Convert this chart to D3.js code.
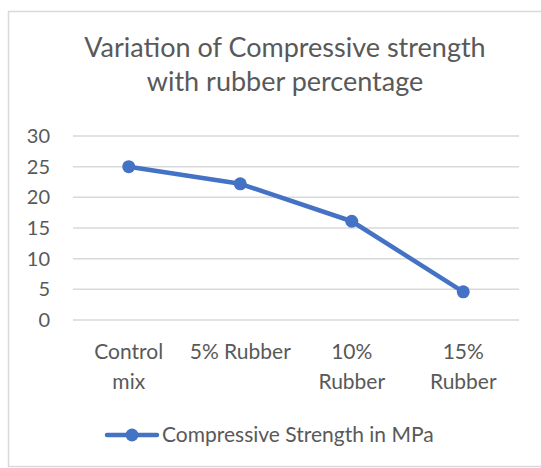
<!DOCTYPE html>
<html>
<head>
<meta charset="utf-8">
<script src="https://cdn.jsdelivr.net/npm/d3@7"></script>
<style>
  body { margin: 0; background: #fff; }
  text { font-family: Lato, "Open Sans", sans-serif; fill: #595959; }
</style>
</head>
<body>
<div id="chart"></div>
<script>
// data
const categories = [["Control", "mix"], ["5% Rubber"], ["10%", "Rubber"], ["15%", "Rubber"]];
const strength = [25, 22.2, 16.1, 4.6];
const yTicks = [0, 5, 10, 15, 20, 25, 30];
const seriesName = "Compressive Strength in MPa";
const titleLines = ["Variation of Compressive strength", "with rubber percentage"];

const width = 541, height = 468;
const blue = "#4472C4";

const svg = d3.select("#chart").append("svg")
  .attr("width", width)
  .attr("height", height);

// chart area border (runs off right and bottom)
svg.append("rect")
  .attr("x", 8.5).attr("y", 11.5)
  .attr("width", 600).attr("height", 455)
  .attr("fill", "none")
  .attr("stroke", "#d9d9d9")
  .attr("stroke-width", 1.5);

// title
svg.append("text")
  .attr("text-anchor", "middle")
  .style("font-size", "27px")
  .selectAll("tspan")
  .data(titleLines)
  .enter().append("tspan")
  .attr("x", 285)
  .attr("y", (d, i) => 57 + i * 34)
  .text(d => d);

const plot = { left: 73, right: 519, top: 136, bottom: 320 };

const x = d3.scaleBand()
  .domain(d3.range(categories.length))
  .range([plot.left, plot.right]);

const y = d3.scaleLinear()
  .domain([0, 30])
  .range([plot.bottom, plot.top]);

// gridlines
svg.append("g")
  .selectAll("line")
  .data(yTicks)
  .enter().append("line")
  .attr("x1", plot.left).attr("x2", plot.right)
  .attr("y1", d => y(d)).attr("y2", d => y(d))
  .attr("stroke", "#d9d9d9")
  .attr("stroke-width", 1.5);

// y axis labels
const yAxis = svg.append("g")
  .attr("transform", `translate(${plot.left},0)`)
  .call(d3.axisLeft(y).tickValues(yTicks).tickSize(0).tickPadding(23));
yAxis.select(".domain").remove();
yAxis.selectAll("text")
  .style("font-family", "Lato, sans-serif")
  .style("font-size", "20px")
  .attr("fill", "#595959");

// x labels
const xl = svg.append("g");
categories.forEach((lines, i) => {
  const t = xl.append("text")
    .attr("text-anchor", "middle")
    .style("font-size", "21px");
  lines.forEach((ln, j) => {
    t.append("tspan")
      .attr("x", x(i) + x.bandwidth() / 2)
      .attr("y", 359 + j * 30)
      .text(ln);
  });
});

// series
const line = d3.line()
  .x((d, i) => x(i) + x.bandwidth() / 2)
  .y(d => y(d));

svg.append("path")
  .datum(strength)
  .attr("d", line)
  .attr("fill", "none")
  .attr("stroke", blue)
  .attr("stroke-width", 4.5)
  .attr("stroke-linejoin", "round")
  .attr("stroke-linecap", "round");

svg.append("g")
  .selectAll("circle")
  .data(strength)
  .enter().append("circle")
  .attr("cx", (d, i) => x(i) + x.bandwidth() / 2)
  .attr("cy", d => y(d))
  .attr("r", 6.5)
  .attr("fill", blue);

// legend
const lg = svg.append("g").attr("transform", "translate(0,435)");
lg.append("line")
  .attr("x1", 107).attr("x2", 157)
  .attr("y1", 0).attr("y2", 0)
  .attr("stroke", blue)
  .attr("stroke-width", 4.5)
  .attr("stroke-linecap", "round");
lg.append("circle")
  .attr("cx", 132).attr("cy", 0).attr("r", 6.5)
  .attr("fill", blue);
lg.append("text")
  .attr("x", 162).attr("y", 7)
  .style("font-size", "21px")
  .text(seriesName);
</script>
</body>
</html>
